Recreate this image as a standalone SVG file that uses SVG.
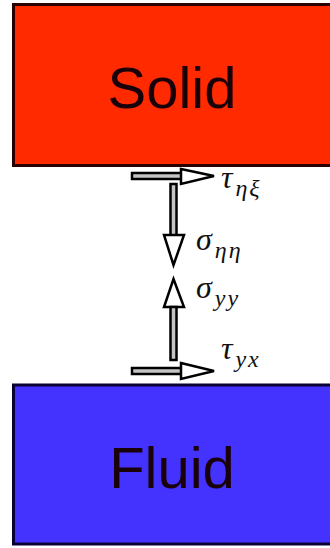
<svg xmlns="http://www.w3.org/2000/svg" width="330" height="548" viewBox="0 0 330 548">
<style>
.box{stroke-width:3}
.lbl{font-family:"Liberation Sans",Lato,sans-serif;font-size:58px;fill:#1a0008;text-anchor:middle}
.shaft{fill:#c4c4c4;stroke:#000;stroke-width:2.5;stroke-linejoin:miter}
.head{fill:#fff;stroke:#000;stroke-width:2.5;stroke-linejoin:miter}
.m{font-family:"Liberation Serif","DejaVu Serif",serif;font-style:italic;fill:#111}
.big{font-size:32px}
.sub{font-size:24px;letter-spacing:2px}
</style>
<rect width="330" height="548" fill="#fff"/>
<g id="solid">
<rect class="box" x="13.5" y="4.5" width="330" height="161" fill="#ff2a00" stroke="#2a0000"/>
<text class="lbl" x="172" y="108">Solid</text>
</g>
<g id="fluid">
<rect class="box" x="13.5" y="385" width="330" height="159" fill="#4433ff" stroke="#0a0033"/>
<text class="lbl" x="172" y="488">Fluid</text>
</g>
<g id="connectors">
<rect class="shaft" x="132" y="173" width="50" height="6"/>
<polygon class="head" points="181,169 214,176 181,184"/>
<rect class="shaft" x="170.5" y="184" width="6" height="52"/>
<polygon class="head" points="164,235 184,235 173.5,265"/>
<polygon class="head" points="173.5,279 184,307 164,307"/>
<rect class="shaft" x="170.5" y="307" width="6" height="53"/>
<rect class="shaft" x="132" y="368" width="50" height="6"/>
<polygon class="head" points="181,363 214,371 181,379"/>
</g>
<g id="labels">
<text class="m" x="221" y="188"><tspan class="big">τ</tspan><tspan class="sub" dx="3" dy="8">ηξ</tspan></text>
<text class="m" x="196" y="250"><tspan class="big">σ</tspan><tspan class="sub" dx="3" dy="8">ηη</tspan></text>
<text class="m" x="196" y="298"><tspan class="big">σ</tspan><tspan class="sub" dx="3" dy="8">yy</tspan></text>
<text class="m" x="221" y="359"><tspan class="big">τ</tspan><tspan class="sub" dx="3" dy="8">yx</tspan></text>
</g>
</svg>
